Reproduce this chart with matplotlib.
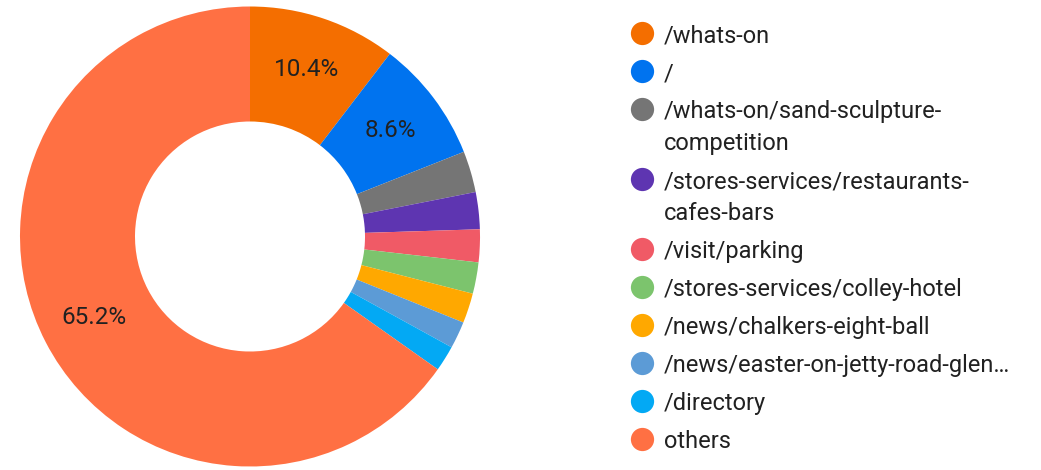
import matplotlib.pyplot as plt

plt.rcParams['font.family'] = ['Roboto', 'DejaVu Sans']

# page paths and their share of pageviews (percent)
pages = ['/whats-on', '/', '/whats-on/sand-sculpture-\ncompetition',
         '/stores-services/restaurants-\ncafes-bars', '/visit/parking',
         '/stores-services/colley-hotel', '/news/chalkers-eight-ball',
         '/news/easter-on-jetty-road-glen\u2026', '/directory', 'others']
share = [10.4, 8.6, 2.9, 2.6, 2.3, 2.2, 2.1, 1.9, 1.8, 65.2]
colors = ['#F46E00', '#0073EF', '#757575', '#5E35B1', '#F05A66',
          '#7CC46D', '#FFA800', '#5C9BD6', '#03A9F4', '#FF7043']

W, H = 1041, 470
fig = plt.figure(figsize=(W / 100, H / 100), dpi=100)

# donut
ax = fig.add_axes([20 / W, 3.5 / H, 460 / W, 460 / H])
wedges, _, autotexts = ax.pie(
    share, colors=colors, startangle=90, counterclock=False,
    wedgeprops=dict(width=0.5, linewidth=0),
    autopct=lambda p: f'{p:.1f}%' if p >= 5 else '',
    pctdistance=0.765, radius=1.0)
for t in autotexts:
    t.set_fontsize(17.5)
    t.set_color('#212121')
ax.set_xlim(-1, 1)
ax.set_ylim(-1, 1)
ax.set_aspect('equal')
ax.axis('off')

# legend drawn by hand so wrapped labels line up
lg = fig.add_axes([0, 0, 1, 1])
lg.set_xlim(0, W)
lg.set_ylim(H, 0)
lg.axis('off')
y = 33
for name, c in zip(pages, colors):
    lg.scatter(642, y, s=280, color=c, linewidths=0)
    for i, line in enumerate(name.split('\n')):
        lg.text(664, y + 32 * i, line, fontsize=17, color='#212121',
                va='center_baseline', ha='left')
    y += 38 + 32 * name.count('\n')

fig.savefig('out.png', dpi=100)
